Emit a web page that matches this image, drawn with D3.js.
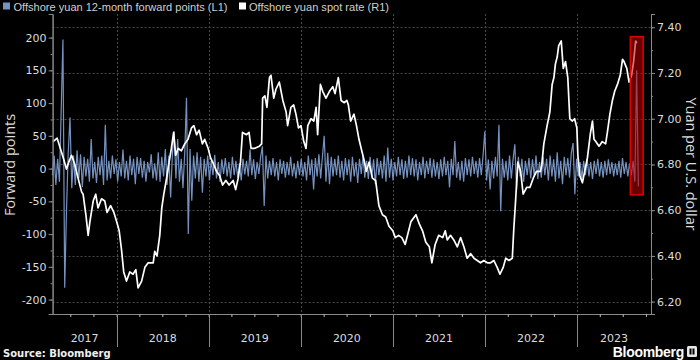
<!DOCTYPE html>
<html><head><meta charset="utf-8">
<script src="https://cdn.jsdelivr.net/npm/d3@7"></script>
<style>
html,body{margin:0;padding:0;background:#000;}
svg{display:block;}
</style></head><body>
<svg id="chart" width="700" height="360"></svg>
<script>
// ---------------- DATA ----------------
const legendLabels = ["Offshore yuan 12-month forward points (L1)", "Offshore yuan spot rate (R1)"];
const leftAxisTitle = "Forward points";
const rightAxisTitle = "Yuan per U.S. dollar";
const sourceText = "Source: Bloomberg";
const yearLabels = ["2017", "2018", "2019", "2020", "2021", "2022", "2023"];
const leftTicks = [-200, -150, -100, -50, 0, 50, 100, 150, 200];
const rightTicks = [6.2, 6.4, 6.6, 6.8, 7.0, 7.2, 7.4];

// weekly observations of 12-month forward points, starting at forwardStart
const forwardStart = "2017-04-21";
const forwardPoints = [
  -10, 20, -25, 15, -20, 88, 197, -182, -65, 25, 78, -30, 20, -25, 28, -15, 22, -28, 18, -12,
  15, -20, 45, -15, 10, -22, 18, -10, 20, -25, 67, -18, 12, -15, 20, -8, 14, -20, 10, -12,
  29, -15, 12, -18, 20, -10, 15, -24, 18, -8, 16, -14, 12, -20, 10, -6, 22, -15, 8, -18,
  25, -20, 18, -12, 30, -25, 20, -44, 22, 57, -15, 45, -20, 15, -30, 25, 108, -100, 30, -49,
  20, -15, 25, -20, 18, -37, 15, -12, 20, -18, 12, -10, 21, -15, 10, -20, 14, -8, 16, -12,
  10, -15, 18, -10, 12, -14, 8, -18, 15, -9, 12, -12, 29, -10, 14, -16, 10, -8, 18, 34,
  -57, 20, -15, 12, -10, 16, -12, 10, -18, 14, -8, 12, -14, 10, -10, 18, -12, 8, -15, 12,
  -10, 15, -12, 10, -18, 20, -10, 14, -32, 16, -12, 22, -15, 18, 50, -20, 24, -24, 18, -12,
  15, -10, 20, -14, 12, -18, 16, -10, 14, -20, 18, -12, 10, -22, 15, -8, 20, -14, 12, -16,
  18, -12, 14, -24, 16, -10, 12, -15, 20, -20, 32, -14, 15, -18, 10, -12, 18, -10, 14, -16,
  12, -14, 20, -10, 16, -12, 14, -18, 10, -10, 18, -15, 12, -8, 16, -14, 14, -12, 10, -16,
  14, -12, 18, -10, 12, -29, 15, -10, 42, -14, 10, -18, 12, -20, 16, -10, 14, -12, 18, -8,
  12, -14, 16, -10, 20, 57, -18, 14, -32, 12, -15, 18, -12, 67, -65, 15, -14, 12, -18, 20,
  -15, 14, 37, -32, 18, -12, 15, -20, 12, -10, 16, -15, 14, -12, 20, -16, 10, -14, 18, -10,
  15, -18, 20, -12, 14, -20, 25, -15, 12, -24, 18, -10, 16, -14, 24, 39, -39, 15, -12, 10,
  -15, 12, -10, 14, -12, 10, -16, 12, -8, 15, -12, 10, -14, 12, -10, 14, -8, 10, -12, 8,
  -10, 12, -14, 16, -8, 10, -12, 8, -10, 12, -20, 150, -27
];

// offshore yuan spot rate (CNH per USD)
const spotRate = [
  ["2017-04-24", 6.90], ["2017-05-10", 6.915], ["2017-05-20", 6.88], ["2017-06-03", 6.83], ["2017-06-16", 6.78],
  ["2017-06-25", 6.81], ["2017-07-06", 6.84], ["2017-07-19", 6.80], ["2017-08-01", 6.74], ["2017-08-15", 6.68],
  ["2017-08-21", 6.67], ["2017-09-01", 6.58], ["2017-09-10", 6.49], ["2017-09-17", 6.55], ["2017-09-30", 6.64],
  ["2017-10-10", 6.67], ["2017-10-19", 6.61], ["2017-11-02", 6.65], ["2017-11-15", 6.64], ["2017-11-24", 6.59],
  ["2017-12-08", 6.62], ["2017-12-21", 6.59],
  ["2018-01-01", 6.55], ["2018-01-11", 6.51], ["2018-01-20", 6.43], ["2018-01-29", 6.33], ["2018-02-09", 6.29],
  ["2018-02-22", 6.33], ["2018-03-07", 6.32], ["2018-03-18", 6.34], ["2018-03-27", 6.26], ["2018-04-10", 6.29],
  ["2018-04-23", 6.35], ["2018-05-06", 6.37], ["2018-05-19", 6.37], ["2018-05-26", 6.37], ["2018-06-01", 6.42],
  ["2018-06-10", 6.40], ["2018-06-21", 6.49], ["2018-06-29", 6.61], ["2018-07-07", 6.67], ["2018-07-18", 6.74],
  ["2018-07-28", 6.81], ["2018-08-06", 6.87], ["2018-08-15", 6.94], ["2018-08-23", 6.84], ["2018-09-02", 6.87],
  ["2018-09-15", 6.86], ["2018-09-28", 6.89], ["2018-10-11", 6.91], ["2018-10-25", 6.96], ["2018-11-03", 6.97],
  ["2018-11-14", 6.93], ["2018-11-24", 6.95], ["2018-12-07", 6.89], ["2018-12-16", 6.91], ["2018-12-30", 6.87],
  ["2019-01-08", 6.83], ["2019-01-21", 6.80], ["2019-02-01", 6.77], ["2019-02-14", 6.75], ["2019-02-25", 6.71],
  ["2019-03-10", 6.73], ["2019-03-23", 6.71], ["2019-04-08", 6.73], ["2019-04-18", 6.69], ["2019-04-28", 6.74],
  ["2019-05-07", 6.81], ["2019-05-15", 6.94], ["2019-05-31", 6.93], ["2019-06-10", 6.94], ["2019-06-18", 6.87],
  ["2019-07-01", 6.87], ["2019-07-21", 6.88], ["2019-07-30", 6.89], ["2019-08-03", 7.09], ["2019-08-12", 7.10],
  ["2019-08-20", 7.05], ["2019-08-30", 7.18], ["2019-09-05", 7.19], ["2019-09-16", 7.09], ["2019-09-25", 7.13],
  ["2019-10-08", 7.16], ["2019-10-22", 7.08], ["2019-11-04", 7.03], ["2019-11-10", 6.97], ["2019-11-23", 7.05],
  ["2019-12-04", 7.06], ["2019-12-13", 7.02], ["2019-12-23", 6.96],
  ["2020-01-02", 6.97], ["2020-01-13", 6.90], ["2020-01-22", 6.87], ["2020-01-29", 6.97], ["2020-02-11", 7.00],
  ["2020-02-22", 6.99], ["2020-03-02", 7.05], ["2020-03-08", 6.93], ["2020-03-19", 7.15], ["2020-03-28", 7.12],
  ["2020-04-10", 7.09], ["2020-04-24", 7.12], ["2020-05-07", 7.14], ["2020-05-16", 7.11], ["2020-05-29", 7.18],
  ["2020-06-09", 7.08], ["2020-06-22", 7.07], ["2020-07-02", 7.08], ["2020-07-08", 7.06], ["2020-07-17", 6.99],
  ["2020-07-30", 7.02], ["2020-08-09", 6.97], ["2020-08-19", 6.91], ["2020-08-30", 6.86], ["2020-09-08", 6.82],
  ["2020-09-17", 6.77], ["2020-09-28", 6.81], ["2020-10-11", 6.74], ["2020-10-24", 6.73], ["2020-11-06", 6.62],
  ["2020-11-20", 6.58], ["2020-12-03", 6.57], ["2020-12-16", 6.53], ["2020-12-31", 6.51],
  ["2021-01-10", 6.48], ["2021-01-23", 6.49], ["2021-02-05", 6.48], ["2021-02-18", 6.45], ["2021-03-04", 6.51],
  ["2021-03-13", 6.55], ["2021-04-02", 6.58], ["2021-04-15", 6.54], ["2021-04-28", 6.51], ["2021-05-11", 6.46],
  ["2021-05-25", 6.44], ["2021-06-04", 6.37], ["2021-06-17", 6.45], ["2021-07-01", 6.49], ["2021-07-17", 6.48],
  ["2021-07-27", 6.51], ["2021-08-04", 6.47], ["2021-08-17", 6.49], ["2021-08-30", 6.47], ["2021-09-13", 6.44],
  ["2021-09-26", 6.48], ["2021-10-09", 6.44], ["2021-10-22", 6.39], ["2021-11-05", 6.41], ["2021-11-18", 6.39],
  ["2021-12-01", 6.38], ["2021-12-14", 6.37], ["2021-12-27", 6.38],
  ["2022-01-10", 6.37], ["2022-01-23", 6.37], ["2022-02-05", 6.38], ["2022-02-18", 6.35], ["2022-03-01", 6.32],
  ["2022-03-14", 6.35], ["2022-03-24", 6.39], ["2022-04-06", 6.38], ["2022-04-19", 6.39], ["2022-04-25", 6.52],
  ["2022-05-02", 6.64], ["2022-05-11", 6.81], ["2022-05-22", 6.77], ["2022-06-01", 6.67], ["2022-06-15", 6.70],
  ["2022-06-28", 6.70], ["2022-07-11", 6.74], ["2022-07-24", 6.77], ["2022-08-09", 6.77], ["2022-08-14", 6.80],
  ["2022-08-22", 6.89], ["2022-09-04", 6.97], ["2022-09-15", 7.03], ["2022-09-24", 7.15], ["2022-10-01", 7.18],
  ["2022-10-07", 7.24], ["2022-10-14", 7.27], ["2022-10-20", 7.32], ["2022-10-30", 7.34], ["2022-11-07", 7.22],
  ["2022-11-16", 7.25], ["2022-11-25", 7.18], ["2022-12-03", 7.00], ["2022-12-13", 6.99], ["2022-12-22", 7.00],
  ["2022-12-31", 6.96],
  ["2023-01-04", 6.84], ["2023-01-12", 6.75], ["2023-01-22", 6.72], ["2023-01-31", 6.77], ["2023-02-11", 6.83],
  ["2023-02-22", 6.93], ["2023-03-03", 6.99], ["2023-03-09", 6.91], ["2023-03-16", 6.90], ["2023-03-29", 6.88],
  ["2023-04-11", 6.90], ["2023-04-24", 6.89], ["2023-05-01", 6.94], ["2023-05-11", 7.02], ["2023-05-21", 7.08],
  ["2023-05-30", 7.12], ["2023-06-10", 7.15], ["2023-06-21", 7.19], ["2023-06-30", 7.26], ["2023-07-06", 7.25],
  ["2023-07-17", 7.22], ["2023-07-26", 7.16], ["2023-08-05", 7.19], ["2023-08-13", 7.25], ["2023-08-21", 7.34],
  ["2023-08-26", 7.33]
];

// highlighted window (dates, and spot-rate range on the right axis)
const highlightDates = ["2023-07-31", "2023-09-20"];
const highlightRange = [6.667, 7.359];

// ---------------- CHART ----------------
const parse = d3.timeParse("%Y-%m-%d");
const svg = d3.select("#chart");
svg.append("rect").attr("width", 700).attr("height", 360).attr("fill", "#000");

const L = 52.6, R = 651, T = 14, B = 314;
const x = d3.scaleTime().domain([parse("2017-04-22"), parse("2023-10-21")]).range([L, R]);
const yL = d3.scaleLinear().domain([-222, 236]).range([B, T]);
const yR = d3.scaleLinear().domain([6.146, 7.458]).range([B, T]);

const gridColor = "#4a4a4a";
const axisColor = "#8a8a8a";
const textColor = "#dcdcdc";
const blue = "#7592c0";
const tickFont = "DejaVu Sans, sans-serif";

// gridlines
const yearStarts = yearLabels.map(y => parse(y + "-01-01"));
svg.append("g").selectAll("line").data(rightTicks).join("line")
  .attr("x1", L).attr("x2", R)
  .attr("y1", d => Math.round(yR(d)) + 0.5).attr("y2", d => Math.round(yR(d)) + 0.5)
  .attr("stroke", gridColor).attr("stroke-dasharray", "2,2").attr("stroke-width", 1);
svg.append("g").selectAll("line").data(yearStarts.slice(1)).join("line")
  .attr("x1", d => Math.round(x(d)) + 0.5).attr("x2", d => Math.round(x(d)) + 0.5)
  .attr("y1", T).attr("y2", B)
  .attr("stroke", gridColor).attr("stroke-dasharray", "2,2").attr("stroke-width", 1);

// forward points line (L1)
const fwdStart = parse(forwardStart);
const fwdData = forwardPoints.map((v, i) => ({ date: d3.timeWeek.offset(fwdStart, i), value: v }));
svg.append("path").datum(fwdData)
  .attr("fill", "none").attr("stroke", blue).attr("stroke-width", 1.2)
  .attr("d", d3.line().x(d => x(d.date)).y(d => yL(d.value)));

// spot rate line (R1)
const spotData = spotRate.map(([d, v]) => ({ date: parse(d), value: v }));
svg.append("path").datum(spotData)
  .attr("fill", "none").attr("stroke", "#ffffff").attr("stroke-width", 1.7)
  .attr("stroke-linejoin", "round")
  .attr("d", d3.line().x(d => x(d.date)).y(d => yR(d.value)));

// highlight box
const hx0 = x(parse(highlightDates[0])), hx1 = x(parse(highlightDates[1]));
const hy0 = yR(highlightRange[1]), hy1 = yR(highlightRange[0]);
svg.append("rect").attr("x", hx0).attr("y", hy0).attr("width", hx1 - hx0).attr("height", hy1 - hy0)
  .attr("fill", "rgba(190,0,0,0.55)").attr("stroke", "#e00000").attr("stroke-width", 1.5);

// left axis
const axL = svg.append("g").attr("transform", `translate(${L},0)`);
axL.call(d3.axisLeft(yL).tickValues(d3.range(-200, 201, 25)).tickSize(2).tickFormat(""));
const axL2 = svg.append("g").attr("transform", `translate(${L},0)`);
axL2.call(d3.axisLeft(yL).tickValues(leftTicks).tickSize(4).tickPadding(2).tickFormat(d => String(d)));
[axL, axL2].forEach(g => {
  g.select(".domain").attr("stroke", axisColor);
  g.selectAll(".tick line").attr("stroke", axisColor);
  g.selectAll("text").attr("fill", textColor).style("font-family", tickFont).style("font-size", "11px");
});

// right axis
const axR = svg.append("g").attr("transform", `translate(${R},0)`);
axR.call(d3.axisRight(yR).tickValues(d3.range(6.2, 7.45, 0.1)).tickSize(2).tickFormat(""));
const axR2 = svg.append("g").attr("transform", `translate(${R},0)`);
axR2.call(d3.axisRight(yR).tickValues(rightTicks).tickSize(4).tickPadding(2).tickFormat(d3.format(".2f")));
[axR, axR2].forEach(g => {
  g.select(".domain").attr("stroke", axisColor);
  g.selectAll(".tick line").attr("stroke", axisColor);
  g.selectAll("text").attr("fill", textColor).style("font-family", tickFont).style("font-size", "11px");
});

// bottom axis with quarterly ticks
const axB = svg.append("g").attr("transform", `translate(0,${B})`);
axB.call(d3.axisBottom(x).ticks(d3.timeMonth.every(3)).tickSize(3).tickFormat("").tickSizeOuter(0));
axB.select(".domain").attr("stroke", axisColor);
axB.selectAll(".tick line").attr("stroke", "#bbb");

// year separators and labels
svg.append("g").selectAll("line").data(yearStarts.slice(1)).join("line")
  .attr("x1", d => Math.round(x(d)) + 0.5).attr("x2", d => Math.round(x(d)) + 0.5)
  .attr("y1", B).attr("y2", 347).attr("stroke", axisColor).attr("stroke-width", 1);
const [d0, d1] = x.domain();
svg.append("g").selectAll("text").data(yearLabels).join("text")
  .attr("x", (d, i) => {
    const a = i === 0 ? d0 : yearStarts[i];
    const b = i === yearStarts.length - 1 ? d1 : yearStarts[i + 1];
    return (x(a) + x(b)) / 2;
  })
  .attr("y", 342).attr("text-anchor", "middle")
  .attr("fill", textColor).style("font-family", tickFont).style("font-size", "11px")
  .text(d => d);

// axis titles
svg.append("text").attr("transform", `translate(14.5,165) rotate(-90)`).attr("text-anchor", "middle")
  .attr("fill", textColor).style("font-family", "Open Sans, sans-serif").style("font-size", "14.5px")
  .text(leftAxisTitle);
svg.append("text").attr("transform", `translate(686,164) rotate(90)`).attr("text-anchor", "middle")
  .attr("fill", textColor).style("font-family", "Open Sans, sans-serif").style("font-size", "14.5px")
  .text(rightAxisTitle);

// legend
const legendFont = "'Liberation Sans', Arial, sans-serif";
const legendItems = [{ label: legendLabels[0], color: blue, sx: 3, tx: 13.5, w: 214 },
                     { label: legendLabels[1], color: "#ffffff", sx: 239, tx: 249, w: 140 }];
const lg = svg.append("g");
legendItems.forEach(it => {
  lg.append("rect").attr("x", it.sx).attr("y", 2.5).attr("width", 7).attr("height", 7).attr("fill", it.color);
  lg.append("text").attr("x", it.tx).attr("y", 10.5).attr("fill", "#cfcfcf")
    .attr("textLength", it.w).attr("lengthAdjust", "spacingAndGlyphs")
    .style("font-family", legendFont).style("font-size", "11px").text(it.label);
});

// source
svg.append("text").attr("x", 3).attr("y", 357).attr("fill", "#f0f0f0")
  .style("font-family", "DejaVu Sans, sans-serif").style("font-weight", "bold").style("font-size", "10px")
  .text(sourceText);

// Bloomberg logo
svg.append("text").attr("x", 684).attr("y", 357).attr("text-anchor", "end").attr("fill", "#ffffff")
  .style("font-family", "Liberation Sans, Arial, sans-serif").style("font-weight", "bold").style("font-size", "14px")
  .style("letter-spacing", "-0.3px")
  .text("Bloomberg");
svg.append("rect").attr("x", 687).attr("y", 346).attr("width", 10).attr("height", 11).attr("rx", 1.5).attr("fill", "#e8e8e8");
svg.append("rect").attr("x", 689.5).attr("y", 348.5).attr("width", 2).attr("height", 6).attr("fill", "#000");
svg.append("rect").attr("x", 692.5).attr("y", 348.5).attr("width", 2).attr("height", 6).attr("fill", "#000");
</script>
</body></html>
